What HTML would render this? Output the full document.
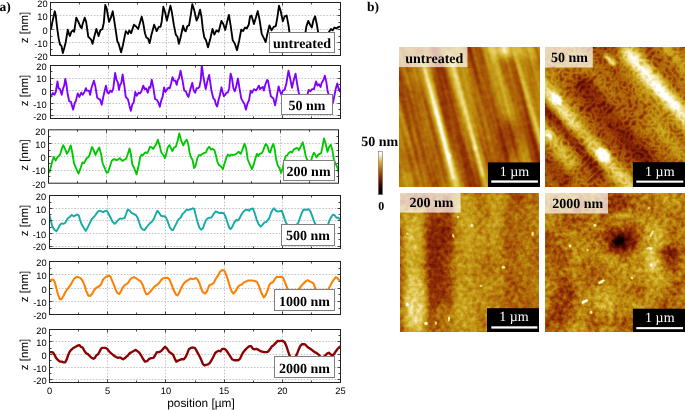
<!DOCTYPE html><html><head><meta charset="utf-8"><style>
html,body{margin:0;padding:0;background:#fff;width:685px;height:410px;overflow:hidden}
svg{position:absolute;left:0;top:0;display:block;will-change:transform;text-rendering:geometricPrecision}
.tk{font-family:"Liberation Sans",sans-serif;font-size:9.3px;fill:#000}
.ax{font-family:"Liberation Sans",sans-serif;font-size:11.5px;fill:#000}
.lg{font-family:"Liberation Serif",serif;font-weight:bold;font-size:14px;fill:#000}
.sb{font-family:"Liberation Serif",serif;font-size:14px;fill:#fff}
</style></head><body>
<svg width="685" height="410" viewBox="0 0 685 410">
<defs>
<clipPath id="c0"><rect x="50.5" y="2.5" width="290" height="53"/></clipPath>
<clipPath id="c1"><rect x="50.5" y="65.5" width="290" height="53"/></clipPath>
<clipPath id="c2"><rect x="48.5" y="129.8" width="290" height="53.4"/></clipPath>
<clipPath id="c3"><rect x="49.5" y="195.5" width="291" height="53"/></clipPath>
<clipPath id="c4"><rect x="49.5" y="261.5" width="291" height="53"/></clipPath>
<clipPath id="c5"><rect x="49.5" y="329.5" width="291" height="53"/></clipPath>
</defs>
<g stroke="#c2c2c2" stroke-width="1" stroke-dasharray="1.5 1.6" fill="none"><line x1="50.5" y1="15.5" x2="340.5" y2="15.5"/><line x1="50.5" y1="29.5" x2="340.5" y2="29.5"/><line x1="50.5" y1="42.5" x2="340.5" y2="42.5"/><line x1="108.5" y1="2.5" x2="108.5" y2="55.5"/><line x1="166.5" y1="2.5" x2="166.5" y2="55.5"/><line x1="224.5" y1="2.5" x2="224.5" y2="55.5"/><line x1="282.5" y1="2.5" x2="282.5" y2="55.5"/></g>
<path clip-path="url(#c0)" d="M50.12 27.56 L51.11 28.98 L52.24 22.61 L54.78 11.31 L55.77 15.55 L57.19 28.27 L58.6 38.16 L60.01 44.52 L61.43 45.94 L62.84 53 L64.25 48.06 L65.67 42.4 L67.79 29.68 L69.2 34.63 L69.91 36.04 L71.32 31.8 L72.73 30.39 L74.15 31.8 L76.27 17.67 L78.39 21.91 L80.51 26.86 L81.64 28.27 L82.63 24.03 L84.75 17.67 L86.16 21.91 L88.28 36.75 L89.7 38.16 L91.11 39.58 L92.52 43.82 L94.64 35.34 L96.34 28.98 L97.47 32.51 L98.6 36.04 L100.3 30.39 L102.42 28.98 L103.83 22.61 L105.24 4.95 L106.66 8.48 L109.06 21.91 L110.9 17.67 L112.73 11.31 L114.15 19.79 L115.84 31.1 L117.26 40.99 L118.67 43.82 L121.07 52.3 L122.91 45.23 L124.33 38.16 L125.74 31.1 L128 33.92 L129.41 30.39 L131.11 33.22 L133.94 24.73 L135.77 26.15 L138.18 28.98 L140.01 22.61 L141.71 16.68 L143.27 23.32 L144.96 33.22 L146.37 37.46 L148.07 38.45 L149.63 43.11 L151.32 35.34 L154.15 24.73 L155.56 28.27 L156.69 31.1 L158.81 26.86 L160.51 26.86 L161.64 21.91 L163.34 6.78 L165.03 12.01 L166.87 20.49 L168.57 13.43 L170.4 5.65 L171.82 12.01 L173.94 25.44 L175.77 34.63 L177.47 36.75 L178.88 43.82 L180.58 37.46 L183.12 25.72 L184.54 30.39 L185.67 31.38 L187.36 26.15 L189.06 25.44 L190.9 14.13 L192.31 4.24 L194.15 9.89 L196.55 20.49 L197.96 17.67 L200.08 9.61 L201.5 16.96 L202.91 29.68 L204.33 37.46 L206.02 40.28 L208 47.35 L210.12 39.58 L212.52 28.98 L214.36 34.63 L216.48 30.39 L218.6 31.8 L221.43 20.92 L223.27 24.03 L225.24 29.96 L227.08 21.91 L228.92 14.84 L230.61 25.44 L232.73 40.28 L234.86 43.82 L236.98 50.18 L239.1 40.99 L241.22 29.68 L243.05 31.1 L245.03 27.56 L246.87 28.27 L248.71 24.73 L250.12 16.25 L251.53 15.55 L253.94 24.03 L256.06 16.96 L257.75 11.02 L259.59 19.79 L261.71 33.92 L263.83 38.16 L265.67 41.98 L267.36 33.92 L269.41 25.44 L271.53 30.39 L273.65 26.86 L275.77 26.15 L277.19 18.37 L279.02 5.65 L280.72 11.31 L282.84 21.2 L284.68 16.25 L286.66 15.55 L288.49 25.44 L289.48 32.51 L292.03 42.4 L300.51 42.4 L305.46 32.51 L306.45 26.15 L308.28 20.92 L310.12 24.73 L311.82 27.56 L313.51 19.79 L315.07 16.25 L316.76 24.03 L318.18 32.51 L321.71 42.4 L326.66 38.16 L328.78 32.23 L330.9 28.98 L332.73 30.39 L334.43 27.56 L336.55 28.27 L338.67 26.86 L340.37 26.57" fill="none" stroke="#000000" stroke-width="1.85" stroke-linejoin="round" stroke-linecap="round"/>
<path d="M50.5 49.5h2M340.5 49.5h-2M50.5 42.5h3M340.5 42.5h-3M50.5 36.5h2M340.5 36.5h-2M50.5 29.5h3M340.5 29.5h-3M50.5 22.5h2M340.5 22.5h-2M50.5 15.5h3M340.5 15.5h-3M50.5 9.5h2M340.5 9.5h-2M79.5 2.5v2M79.5 55.5v-2M108.5 2.5v3M108.5 55.5v-3M137.5 2.5v2M137.5 55.5v-2M166.5 2.5v3M166.5 55.5v-3M195.5 2.5v2M195.5 55.5v-2M224.5 2.5v3M224.5 55.5v-3M253.5 2.5v2M253.5 55.5v-2M282.5 2.5v3M282.5 55.5v-3M311.5 2.5v2M311.5 55.5v-2" stroke="#444" stroke-width="1" fill="none"/>
<rect x="50.5" y="2.5" width="290" height="53" fill="none" stroke="#222" stroke-width="1"/>
<text class="tk" x="47.6" y="6.8" text-anchor="end">20</text>
<text class="tk" x="47.6" y="20.2" text-anchor="end">10</text>
<text class="tk" x="47.6" y="33.6" text-anchor="end">0</text>
<text class="tk" x="47.6" y="47" text-anchor="end">-10</text>
<text class="tk" x="47.6" y="60.4" text-anchor="end">-20</text>
<text class="ax" transform="translate(27.8 27.5) rotate(-90)" text-anchor="middle">z [nm]</text>
<rect x="269.5" y="32.5" width="65" height="20" fill="#fff" stroke="#808080" stroke-width="1"/>
<text class="lg" x="302" y="47.7" text-anchor="middle">untreated</text>
<g stroke="#c2c2c2" stroke-width="1" stroke-dasharray="1.5 1.6" fill="none"><line x1="50.5" y1="78.5" x2="340.5" y2="78.5"/><line x1="50.5" y1="90.5" x2="340.5" y2="90.5"/><line x1="50.5" y1="103.5" x2="340.5" y2="103.5"/><line x1="50.5" y1="115.5" x2="340.5" y2="115.5"/><line x1="108.5" y1="65.5" x2="108.5" y2="118.5"/><line x1="166.5" y1="65.5" x2="166.5" y2="118.5"/><line x1="224.5" y1="65.5" x2="224.5" y2="118.5"/><line x1="282.5" y1="65.5" x2="282.5" y2="118.5"/></g>
<path clip-path="url(#c1)" d="M50.12 97.63 L51.53 95.23 L52.95 92.96 L54.36 94.8 L55.77 91.98 L57.47 81.37 L58.6 88.44 L60.01 89.15 L61.71 94.8 L63.12 88.16 L64.25 85.61 L65.24 78.83 L66.37 84.2 L67.79 94.8 L69.2 101.16 L70.9 101.87 L73.16 109.64 L74.86 102.58 L75.84 101.16 L77.68 93.39 L79.38 96.92 L81.22 92.68 L82.63 94.8 L84.47 91.98 L85.88 88.16 L86.87 90.56 L88.99 90.56 L90.12 94.8 L91.53 87.73 L93.94 80.67 L95.35 86.32 L97.19 97.63 L98.88 99.04 L100.01 99.47 L101.71 104.7 L103.41 96.22 L105.95 85.61 L107.36 92.68 L108.78 93.39 L110.19 90.56 L111.89 91.98 L113.3 88.44 L115.14 72.89 L116.55 79.96 L117.96 82.79 L118.95 89.86 L120.08 84.91 L121.22 83.49 L122.63 74.31 L124.33 85.61 L125.74 96.92 L128 99.47 L129.41 105.4 L130.83 110.77 L132.24 104.7 L133.65 102.58 L135.35 91.98 L136.76 95.79 L138.6 92.68 L140.01 93.39 L141.43 91.27 L143.27 85.61 L144.68 89.15 L146.09 88.44 L147.79 92.68 L149.2 87.03 L150.33 87.73 L151.75 79.68 L153.16 86.32 L155.14 99.04 L156.98 100.03 L158.39 102.58 L159.8 106.82 L161.22 100.46 L162.63 96.92 L164.04 87.31 L165.46 91.98 L166.87 89.86 L168.28 87.73 L169.7 88.44 L171.11 83.49 L172.52 77.13 L173.94 80.67 L175.35 80.67 L176.76 84.91 L177.75 79.96 L178.88 78.55 L180.58 70.77 L182.42 79.96 L184.25 90.56 L185.95 91.27 L187.08 94.8 L188.49 96.92 L190.19 89.86 L192.31 82.79 L193.72 90.56 L195.14 92.68 L196.55 88.16 L197.96 88.44 L199.38 87.03 L200.79 79.96 L201.78 65.12 L203.19 75.72 L204.61 83.49 L205.74 89.15 L207.15 82.08 L209.13 75.01 L210.12 81.37 L211.53 91.27 L213.37 98.34 L214.78 99.75 L215.77 103.99 L217.19 106.53 L218.6 99.75 L220.01 94.8 L221.43 87.31 L222.84 92.68 L223.83 96.22 L225.24 94.8 L226.37 92.68 L227.79 92.68 L229.2 88.44 L230.61 73.6 L232.03 78.55 L233.44 88.44 L234.86 91.27 L236.27 86.32 L237.96 78.55 L239.38 87.73 L241.22 98.34 L243.05 101.87 L244.47 103.99 L245.88 109.64 L247.58 103.28 L248.99 100.46 L250.69 90.56 L252.1 92.68 L253.94 89.15 L256.06 90.56 L257.47 88.16 L258.88 85.61 L260.01 89.15 L261.43 87.73 L262.84 87.03 L263.83 90.56 L265.24 84.91 L267.08 79.96 L268 80.67 L269.41 88.44 L270.83 96.22 L272.24 97.63 L273.37 98.34 L275.07 105.4 L276.48 98.34 L278.6 86.32 L280.01 91.27 L281.43 94.8 L282.84 90.56 L284.68 89.86 L286.37 83.49 L288.49 70.77 L289.91 77.13 L292.03 87.73 L293.44 81.37 L295.56 73.6 L296.98 82.79 L298.39 91.27 L299.38 94.8 L303.34 105.4 L307.58 94.1 L308.71 89.86 L310.4 91.27 L312.1 89.15 L313.94 89.15 L316.06 81.37 L317.47 85.61 L318.88 84.2 L320.58 87.03 L321.71 82.79 L323.41 79.96 L324.82 75.72 L326.23 81.37 L327.65 91.27 L328.78 94.8 L330.9 108.23 L333.3 101.16 L334.43 95.51 L335.84 88.44 L337.26 83.49 L338.67 89.15 L339.8 91.27 L340.79 87.73" fill="none" stroke="#7f00ff" stroke-width="1.85" stroke-linejoin="round" stroke-linecap="round"/>
<path d="M50.5 115.5h3M340.5 115.5h-3M50.5 109.5h2M340.5 109.5h-2M50.5 103.5h3M340.5 103.5h-3M50.5 96.5h2M340.5 96.5h-2M50.5 90.5h3M340.5 90.5h-3M50.5 84.5h2M340.5 84.5h-2M50.5 78.5h3M340.5 78.5h-3M50.5 71.5h2M340.5 71.5h-2M79.5 65.5v2M79.5 118.5v-2M108.5 65.5v3M108.5 118.5v-3M137.5 65.5v2M137.5 118.5v-2M166.5 65.5v3M166.5 118.5v-3M195.5 65.5v2M195.5 118.5v-2M224.5 65.5v3M224.5 118.5v-3M253.5 65.5v2M253.5 118.5v-2M282.5 65.5v3M282.5 118.5v-3M311.5 65.5v2M311.5 118.5v-2" stroke="#444" stroke-width="1" fill="none"/>
<rect x="50.5" y="65.5" width="290" height="53" fill="none" stroke="#222" stroke-width="1"/>
<text class="tk" x="46.6" y="69.9" text-anchor="end">20</text>
<text class="tk" x="46.6" y="82.45" text-anchor="end">10</text>
<text class="tk" x="46.6" y="95" text-anchor="end">0</text>
<text class="tk" x="46.6" y="107.55" text-anchor="end">-10</text>
<text class="tk" x="46.6" y="120.1" text-anchor="end">-20</text>
<text class="ax" transform="translate(27.8 90.5) rotate(-90)" text-anchor="middle">z [nm]</text>
<rect x="281.5" y="94.5" width="51" height="20" fill="#fff" stroke="#808080" stroke-width="1"/>
<text class="lg" x="306.9" y="110.3" text-anchor="middle">50 nm</text>
<g stroke="#c2c2c2" stroke-width="1" stroke-dasharray="1.5 1.6" fill="none"><line x1="48.5" y1="143.5" x2="338.5" y2="143.5"/><line x1="48.5" y1="156.5" x2="338.5" y2="156.5"/><line x1="48.5" y1="170.5" x2="338.5" y2="170.5"/><line x1="106.5" y1="129.8" x2="106.5" y2="183.2"/><line x1="164.5" y1="129.8" x2="164.5" y2="183.2"/><line x1="222.5" y1="129.8" x2="222.5" y2="183.2"/><line x1="280.5" y1="129.8" x2="280.5" y2="183.2"/></g>
<path clip-path="url(#c2)" d="M48.12 169.4 L49.53 172.23 L50.95 166.58 L52.36 160.92 L53.77 156.96 L55.61 160.64 L57.31 157.39 L58.72 155.98 L60.13 154.56 L61.55 149.61 L63.24 145.09 L65.08 148.91 L66.92 153.86 L68.61 151.03 L70.73 145.37 L72.15 151.73 L73.99 163.04 L75.96 167.99 L78.51 173.64 L80.63 167.99 L82.47 162.34 L84.16 163.04 L85.58 160.22 L86.99 157.81 L88.69 156.96 L90.1 153.15 L91.94 147.07 L93.77 150.32 L95.47 154.99 L97.17 151.03 L99.29 147.49 L101.12 154.56 L102.82 163.75 L104.66 167.99 L106.49 172.51 L108.19 172.23 L109.89 166.58 L111.72 160.92 L113.14 159.51 L115.26 159.23 L116.67 160.22 L118.08 159.51 L119.78 158.1 L120.91 159.51 L122.61 160.92 L124.59 159.51 L126 158.8 L127.41 155.27 L129.53 148.48 L130.95 154.56 L132.36 164.46 L134.2 167.99 L136.6 174.35 L138.44 166.58 L140.13 157.39 L141.55 154.56 L142.96 155.27 L144.37 153.15 L145.79 152.44 L147.2 153.15 L148.61 150.32 L150.03 146.79 L151.44 147.07 L153.14 148.91 L154.98 146.08 L156.39 143.68 L157.8 139.72 L159.64 145.37 L161.34 152.44 L163.46 155.27 L164.87 158.1 L166.28 153.86 L167.7 147.49 L169.53 145.09 L170.95 148.2 L172.36 151.03 L174.06 147.49 L175.75 146.79 L177.59 141.13 L179.29 133.36 L181.12 140.43 L183.24 145.37 L185.36 141.13 L186.78 139.72 L188.19 143.96 L189.6 152.44 L191.02 157.39 L192.43 159.51 L194.13 167.99 L195.54 165.87 L197.38 158.1 L198.79 155.27 L200.63 155.27 L202.33 153.86 L204.02 153.15 L206 152.44 L207.41 148.91 L209.11 146.79 L210.95 149.61 L212.78 148.91 L214.48 150.32 L215.89 155.27 L217.31 161.63 L219 165.16 L220.84 166.29 L222.96 169.12 L224.66 163.04 L226.49 157.39 L227.91 154.56 L229.75 155.98 L231.44 154.56 L233.14 154.99 L234.98 154.56 L237.1 153.15 L238.79 151.73 L240.63 153.86 L242.47 149.61 L244.45 143.68 L246.28 148.91 L247.7 159.51 L249.82 164.46 L251.94 169.12 L253.77 164.46 L255.47 158.1 L256.88 153.86 L258.3 155.98 L259.71 153.86 L261.83 153.15 L263.24 150.32 L265.36 144.67 L266 143.96 L267.41 146.08 L269.11 151.73 L270.24 152.44 L271.65 147.49 L273.35 143.96 L274.76 149.61 L276.18 159.51 L277.59 165.16 L279.43 167.99 L281.12 172.94 L282.68 167.99 L284.37 160.22 L285.79 155.98 L287.2 155.27 L288.61 153.15 L290.31 151.73 L292.15 152.44 L293.56 149.61 L294.98 148.91 L296.39 148.2 L297.8 148.2 L298.79 150.32 L300.63 146.79 L302.75 142.27 L304.16 148.2 L305.58 155.27 L306.99 159.51 L308.12 160.92 L309.82 166.58 L311.23 160.22 L312.64 155.27 L314.06 152.72 L315.47 155.27 L316.6 157.39 L318.3 154.56 L319.71 153.86 L321.12 153.15 L322.54 146.79 L323.95 138.31 L325.36 142.55 L327.48 151.73 L328.9 147.49 L330.73 144.67 L332.43 150.32 L333.84 159.51 L335.26 163.04 L336.67 165.87 L338.08 169.4 L339.22 175.06" fill="none" stroke="#00c800" stroke-width="1.85" stroke-linejoin="round" stroke-linecap="round"/>
<path d="M48.5 176.5h2M338.5 176.5h-2M48.5 170.5h3M338.5 170.5h-3M48.5 163.5h2M338.5 163.5h-2M48.5 156.5h3M338.5 156.5h-3M48.5 150.5h2M338.5 150.5h-2M48.5 143.5h3M338.5 143.5h-3M48.5 136.5h2M338.5 136.5h-2M77.5 129.8v2M77.5 183.2v-2M106.5 129.8v3M106.5 183.2v-3M135.5 129.8v2M135.5 183.2v-2M164.5 129.8v3M164.5 183.2v-3M193.5 129.8v2M193.5 183.2v-2M222.5 129.8v3M222.5 183.2v-3M251.5 129.8v2M251.5 183.2v-2M280.5 129.8v3M280.5 183.2v-3M309.5 129.8v2M309.5 183.2v-2" stroke="#444" stroke-width="1" fill="none"/>
<rect x="48.5" y="129.8" width="290" height="53.4" fill="none" stroke="#222" stroke-width="1"/>
<text class="tk" x="45.6" y="134.5" text-anchor="end">20</text>
<text class="tk" x="45.6" y="147.8" text-anchor="end">10</text>
<text class="tk" x="45.6" y="161.1" text-anchor="end">0</text>
<text class="tk" x="45.6" y="174.4" text-anchor="end">-10</text>
<text class="tk" x="45.6" y="187.7" text-anchor="end">-20</text>
<text class="ax" transform="translate(27.8 155) rotate(-90)" text-anchor="middle">z [nm]</text>
<rect x="283.5" y="160.5" width="51" height="20" fill="#fff" stroke="#808080" stroke-width="1"/>
<text class="lg" x="308.6" y="175.8" text-anchor="middle">200 nm</text>
<g stroke="#c2c2c2" stroke-width="1" stroke-dasharray="1.5 1.6" fill="none"><line x1="49.5" y1="208.5" x2="340.5" y2="208.5"/><line x1="49.5" y1="220.5" x2="340.5" y2="220.5"/><line x1="49.5" y1="233.5" x2="340.5" y2="233.5"/><line x1="49.5" y1="246.5" x2="340.5" y2="246.5"/><line x1="107.5" y1="195.5" x2="107.5" y2="248.5"/><line x1="165.5" y1="195.5" x2="165.5" y2="248.5"/><line x1="224.5" y1="195.5" x2="224.5" y2="248.5"/><line x1="282.5" y1="195.5" x2="282.5" y2="248.5"/></g>
<path clip-path="url(#c3)" d="M49.41 215.33 L50.83 220.56 L52.24 226.22 L54.36 229.75 L56.48 231.16 L58.18 228.34 L60.01 224.8 L61.43 223.39 L63.27 223.81 L65.24 222.96 L66.37 220.56 L67.79 218.44 L69.91 216.75 L71.75 214.91 L73.72 216.32 L75.56 215.33 L77.4 214.48 L78.81 215.61 L80.23 220.56 L81.92 224.8 L84.04 228.34 L85.88 230.88 L87.58 227.63 L89.7 223.39 L91.82 219.15 L93.51 217.31 L95.35 215.33 L97.47 212.08 L99.17 210.67 L101 211.09 L103.12 212.08 L104.82 211.09 L106.66 210.67 L108.07 212.79 L110.19 217.03 L112.31 221.27 L114.71 223.81 L116.55 221.98 L118.39 219.86 L120.08 218.44 L121.5 218.87 L123.19 218.44 L124.61 218.16 L126.02 214.2 L127.15 210.67 L128 209.68 L129.7 210.67 L131.53 212.79 L133.65 213.92 L136.2 215.33 L137.89 218.44 L139.31 222.68 L141 227.63 L142.84 229.47 L144.68 230.03 L146.37 227.63 L148.49 224.8 L150.61 222.68 L152.31 221.27 L153.72 219.15 L155.56 214.91 L157.4 210.67 L159.1 212.79 L160.79 215.61 L162.63 216.32 L164.47 216.32 L166.16 217.73 L167.86 221.98 L169.7 226.92 L171.53 229.75 L172.95 230.03 L174.64 226.92 L176.76 222.68 L178.6 219.15 L180.58 217.73 L182.42 214.2 L184.54 212.08 L186.66 209.68 L188.78 209.96 L190.9 209.25 L192.73 208.27 L194.15 208.83 L195.84 215.61 L197.54 221.98 L199.38 227.63 L201.22 229.75 L202.91 228.34 L204.33 224.1 L206.02 220.14 L208 218.16 L209.7 217.73 L211.53 217.31 L213.65 213.92 L215.77 211.37 L217.61 212.08 L219.31 213.07 L221.43 212.79 L223.83 213.07 L225.67 217.03 L227.51 222.68 L229.2 227.63 L230.61 229.04 L232.31 226.92 L234.15 222.68 L236.27 219.86 L237.68 220.56 L239.38 218.72 L241.22 214.91 L243.05 212.08 L245.03 210.24 L246.87 209.68 L248.99 210.67 L251.11 208.83 L252.95 208.55 L254.64 212.79 L256.76 219.86 L258.6 224.1 L260.58 226.64 L262.42 224.8 L264.25 222.68 L266.23 221.98 L268 219.86 L269.41 217.73 L271.11 212.79 L272.52 209.96 L273.94 208.27 L275.77 210.67 L277.89 211.66 L280.01 211.09 L281.71 210.67 L283.27 214.91 L284.68 219.15 L286.09 222.96 L287.08 224.38 L292.03 235.4 L296.98 224.38 L298.39 222.68 L299.8 218.44 L301.64 213.49 L303.34 209.68 L305.03 209.68 L306.87 209.68 L308.71 209.25 L310.4 211.37 L312.1 215.61 L313.51 219.86 L314.93 223.39 L315.77 224.38 L321.71 235.4 L328.07 224.38 L329.48 220.56 L331.32 217.03 L333.02 214.48 L334.71 215.33 L336.55 217.73 L338.39 217.73 L340.08 219.15 L340.79 220.14" fill="none" stroke="#14aaa5" stroke-width="1.9" stroke-linejoin="round" stroke-linecap="round"/>
<path d="M49.5 246.5h3M340.5 246.5h-3M49.5 239.5h2M340.5 239.5h-2M49.5 233.5h3M340.5 233.5h-3M49.5 227.5h2M340.5 227.5h-2M49.5 220.5h3M340.5 220.5h-3M49.5 214.5h2M340.5 214.5h-2M49.5 208.5h3M340.5 208.5h-3M49.5 202.5h2M340.5 202.5h-2M78.5 195.5v2M78.5 248.5v-2M107.5 195.5v3M107.5 248.5v-3M136.5 195.5v2M136.5 248.5v-2M165.5 195.5v3M165.5 248.5v-3M195.5 195.5v2M195.5 248.5v-2M224.5 195.5v3M224.5 248.5v-3M253.5 195.5v2M253.5 248.5v-2M282.5 195.5v3M282.5 248.5v-3M311.5 195.5v2M311.5 248.5v-2" stroke="#444" stroke-width="1" fill="none"/>
<rect x="49.5" y="195.5" width="291" height="53" fill="none" stroke="#222" stroke-width="1"/>
<text class="tk" x="46.2" y="200" text-anchor="end">20</text>
<text class="tk" x="46.2" y="212.6" text-anchor="end">10</text>
<text class="tk" x="46.2" y="225.2" text-anchor="end">0</text>
<text class="tk" x="46.2" y="237.8" text-anchor="end">-10</text>
<text class="tk" x="46.2" y="250.4" text-anchor="end">-20</text>
<text class="ax" transform="translate(27.8 220.5) rotate(-90)" text-anchor="middle">z [nm]</text>
<rect x="281.5" y="224.5" width="53" height="21" fill="#fff" stroke="#808080" stroke-width="1"/>
<text class="lg" x="307.9" y="240.4" text-anchor="middle">500 nm</text>
<g stroke="#c2c2c2" stroke-width="1" stroke-dasharray="1.5 1.6" fill="none"><line x1="49.5" y1="274.5" x2="340.5" y2="274.5"/><line x1="49.5" y1="288.5" x2="340.5" y2="288.5"/><line x1="49.5" y1="301.5" x2="340.5" y2="301.5"/><line x1="107.5" y1="261.5" x2="107.5" y2="314.5"/><line x1="165.5" y1="261.5" x2="165.5" y2="314.5"/><line x1="224.5" y1="261.5" x2="224.5" y2="314.5"/><line x1="282.5" y1="261.5" x2="282.5" y2="314.5"/></g>
<path clip-path="url(#c4)" d="M49.41 280.91 L50.83 280.2 L52.24 279.49 L53.65 279.92 L55.07 283.03 L56.48 288.68 L58.18 295.04 L60.01 299.28 L61.43 299.28 L63.55 295.75 L65.67 291.51 L67.79 288.68 L69.91 285.86 L72.03 282.32 L74.15 278.79 L76.27 277.09 L78.39 277.09 L80.51 278.08 L82.63 280.91 L84.47 285.15 L86.16 290.8 L88.28 295.47 L90.12 296.03 L91.82 294.34 L93.51 291.51 L95.35 288.68 L97.19 287.27 L98.88 286.56 L101 284.44 L103.12 279.49 L105.24 277.37 L107.08 276.24 L109.06 275.68 L110.47 276.67 L111.89 280.2 L113.72 284.44 L115.56 289.39 L117.26 292.92 L119.38 294.05 L121.22 290.8 L122.91 287.27 L124.61 285.15 L126.45 284.16 L128 283.03 L129.7 280.2 L131.53 278.08 L133.94 277.09 L135.77 278.08 L137.89 279.49 L140.72 281.33 L142.84 285.15 L144.68 290.8 L146.37 294.34 L148.49 293.63 L150.61 291.23 L152.73 288.68 L154.86 286.14 L156.98 284.87 L158.81 283.31 L160.79 280.48 L162.63 278.51 L164.75 278.08 L166.87 277.66 L168.99 278.79 L170.4 281.61 L172.1 285.86 L173.94 290.8 L175.77 294.34 L177.47 295.47 L179.17 292.92 L181 288.68 L183.12 284.44 L184.82 282.32 L186.66 280.91 L188.49 279.92 L190.47 278.51 L192.31 279.07 L194.15 278.79 L195.84 278.08 L197.54 279.49 L199.38 283.03 L201.22 288.68 L202.91 292.22 L205.03 293.63 L206.45 292.22 L208 288.68 L209.41 285.15 L211.53 284.44 L213.65 283.03 L215.77 278.79 L217.89 275.68 L220.01 271.72 L222.13 270.02 L224.25 270.59 L226.09 274.55 L227.79 279.49 L229.91 286.56 L231.75 291.51 L233.44 293.63 L235.56 291.23 L237.68 287.27 L239.8 285.15 L241.92 284.44 L244.04 282.32 L246.16 281.33 L248.28 280.48 L250.4 280.48 L252.52 280.48 L254.64 280.91 L256.76 281.61 L258.6 285.15 L260.3 289.81 L261.99 294.34 L263.83 297.45 L265.67 295.04 L268 289.39 L269.13 285.15 L270.83 283.03 L272.95 282.32 L275.07 278.79 L276.76 276.67 L279.02 277.09 L281.43 276.67 L283.27 278.08 L284.68 281.61 L286.37 285.86 L287.79 289.39 L292.73 298.58 L297.68 289.81 L299.8 287.98 L301.92 285.15 L304.04 283.03 L306.16 280.91 L307.86 280.2 L309.7 281.33 L311.82 282.32 L313.51 283.31 L314.64 286.56 L315.77 289.81 L321.71 298.58 L328.07 289.81 L330.19 285.86 L332.31 281.61 L334.43 278.79 L335.84 277.09 L337.54 278.08 L338.95 279.92 L340.37 280.2" fill="none" stroke="#ff8000" stroke-width="2.05" stroke-linejoin="round" stroke-linecap="round"/>
<path d="M49.5 308.5h2M340.5 308.5h-2M49.5 301.5h3M340.5 301.5h-3M49.5 294.5h2M340.5 294.5h-2M49.5 288.5h3M340.5 288.5h-3M49.5 281.5h2M340.5 281.5h-2M49.5 274.5h3M340.5 274.5h-3M49.5 268.5h2M340.5 268.5h-2M78.5 261.5v2M78.5 314.5v-2M107.5 261.5v3M107.5 314.5v-3M136.5 261.5v2M136.5 314.5v-2M165.5 261.5v3M165.5 314.5v-3M195.5 261.5v2M195.5 314.5v-2M224.5 261.5v3M224.5 314.5v-3M253.5 261.5v2M253.5 314.5v-2M282.5 261.5v3M282.5 314.5v-3M311.5 261.5v2M311.5 314.5v-2" stroke="#444" stroke-width="1" fill="none"/>
<rect x="49.5" y="261.5" width="291" height="53" fill="none" stroke="#222" stroke-width="1"/>
<text class="tk" x="46.6" y="265.8" text-anchor="end">20</text>
<text class="tk" x="46.6" y="279.2" text-anchor="end">10</text>
<text class="tk" x="46.6" y="292.6" text-anchor="end">0</text>
<text class="tk" x="46.6" y="306" text-anchor="end">-10</text>
<text class="tk" x="46.6" y="319.4" text-anchor="end">-20</text>
<text class="ax" transform="translate(27.8 286.5) rotate(-90)" text-anchor="middle">z [nm]</text>
<rect x="274.5" y="289.5" width="60" height="21" fill="#fff" stroke="#808080" stroke-width="1"/>
<text class="lg" x="304.4" y="305.6" text-anchor="middle">1000 nm</text>
<g stroke="#c2c2c2" stroke-width="1" stroke-dasharray="1.5 1.6" fill="none"><line x1="49.5" y1="341.5" x2="340.5" y2="341.5"/><line x1="49.5" y1="354.5" x2="340.5" y2="354.5"/><line x1="49.5" y1="367.5" x2="340.5" y2="367.5"/><line x1="49.5" y1="379.5" x2="340.5" y2="379.5"/><line x1="107.5" y1="329.5" x2="107.5" y2="382.5"/><line x1="165.5" y1="329.5" x2="165.5" y2="382.5"/><line x1="224.5" y1="329.5" x2="224.5" y2="382.5"/><line x1="282.5" y1="329.5" x2="282.5" y2="382.5"/></g>
<path clip-path="url(#c5)" d="M49.41 352.16 L51.11 352.16 L52.95 352.44 L54.36 354.56 L56.2 358.1 L58.18 360.22 L60.01 361.63 L61.85 361.63 L63.55 362.34 L65.24 362.34 L66.66 359.51 L68.07 355.27 L69.91 351.31 L71.75 349.33 L73.44 347.92 L75.56 346.79 L77.68 345.66 L79.38 345.09 L80.79 346.79 L82.63 347.49 L84.47 351.03 L86.16 353.15 L87.86 354.14 L89.7 355.98 L91.53 357.81 L93.51 358.8 L94.93 357.81 L96.34 355.27 L97.75 354.56 L99.17 352.44 L100.58 349.61 L101.71 347.92 L103.41 347.92 L105.67 347.92 L107.36 348.91 L108.78 351.03 L110.9 353.15 L112.73 354.56 L114.43 355.98 L116.13 356.96 L117.96 357.81 L120.08 357.39 L121.5 358.38 L123.19 359.23 L125.03 358.1 L126.45 356.68 L128 355.27 L129.7 353.15 L131.53 352.16 L133.65 351.03 L135.77 349.9 L137.61 351.31 L139.31 352.72 L141.43 355.98 L143.27 359.23 L144.96 361.63 L147.08 361.2 L149.2 358.8 L151.32 358.1 L153.44 357.81 L155.14 355.27 L156.98 352.16 L159.1 352.16 L161.22 351.03 L163.05 348.91 L165.03 346.79 L166.87 348.48 L168.99 351.73 L171.11 353.15 L172.95 354.56 L174.64 358.38 L176.34 361.63 L178.18 360.64 L180.01 359.79 L181.71 359.23 L183.83 359.23 L185.67 356.96 L187.36 353.15 L189.06 348.91 L190.9 347.92 L193.02 347.49 L195.14 348.2 L197.26 352.16 L199.38 355.98 L201.22 359.79 L202.91 364.03 L204.33 365.45 L206.02 364.88 L208 364.46 L209.7 363.04 L211.53 360.22 L213.37 356.68 L215.07 353.15 L216.76 351.73 L218.6 350.75 L220.44 351.31 L222.13 348.91 L224.25 348.91 L225.67 349.61 L227.79 352.44 L229.91 355.98 L232.03 359.23 L234.15 360.22 L236.27 360.22 L238.39 360.22 L240.23 358.38 L241.92 354.56 L243.62 351.73 L245.46 349.61 L247.58 347.49 L249.7 346.08 L251.11 346.08 L252.95 348.91 L254.64 349.33 L256.34 348.91 L258.6 349.9 L260.3 351.03 L262.42 351.73 L264.54 352.16 L266.66 352.16 L268 351.73 L269.7 349.61 L271.53 346.79 L273.65 345.09 L275.77 342.83 L277.61 340.85 L279.31 341.13 L281 340.85 L282.84 340.85 L284.68 342.27 L286.37 346.08 L287.79 350.32 L289.2 354.56 L290.33 356.96 L292.73 363.75 L295.56 356.96 L296.98 353.86 L298.39 350.32 L300.23 346.08 L301.92 344.24 L304.04 344.24 L305.46 344.67 L307.29 346.79 L308.99 347.92 L311.11 349.33 L312.95 350.75 L314.64 352.16 L316.76 353.15 L318.6 354.56 L320.58 356.68 L322.42 360.92 L323.83 356.96 L325.24 355.27 L327.08 353.57 L328.78 352.72 L330.47 354.14 L332.31 355.27 L333.72 354.56 L335.56 351.73 L337.26 349.33 L338.95 347.49 L340.37 346.51" fill="none" stroke="#8b0000" stroke-width="2.35" stroke-linejoin="round" stroke-linecap="round"/>
<path d="M49.5 379.5h3M340.5 379.5h-3M49.5 373.5h2M340.5 373.5h-2M49.5 367.5h3M340.5 367.5h-3M49.5 360.5h2M340.5 360.5h-2M49.5 354.5h3M340.5 354.5h-3M49.5 348.5h2M340.5 348.5h-2M49.5 341.5h3M340.5 341.5h-3M49.5 335.5h2M340.5 335.5h-2M78.5 329.5v2M78.5 382.5v-2M107.5 329.5v3M107.5 382.5v-3M136.5 329.5v2M136.5 382.5v-2M165.5 329.5v3M165.5 382.5v-3M195.5 329.5v2M195.5 382.5v-2M224.5 329.5v3M224.5 382.5v-3M253.5 329.5v2M253.5 382.5v-2M282.5 329.5v3M282.5 382.5v-3M311.5 329.5v2M311.5 382.5v-2" stroke="#444" stroke-width="1" fill="none"/>
<rect x="49.5" y="329.5" width="291" height="53" fill="none" stroke="#222" stroke-width="1"/>
<text class="tk" x="46.6" y="333.55" text-anchor="end">20</text>
<text class="tk" x="46.6" y="346.2" text-anchor="end">10</text>
<text class="tk" x="46.6" y="358.85" text-anchor="end">0</text>
<text class="tk" x="46.6" y="371.5" text-anchor="end">-10</text>
<text class="tk" x="46.6" y="384.15" text-anchor="end">-20</text>
<text class="ax" transform="translate(27.8 354.5) rotate(-90)" text-anchor="middle">z [nm]</text>
<rect x="274.5" y="356.5" width="60" height="21" fill="#fff" stroke="#808080" stroke-width="1"/>
<text class="lg" x="304.4" y="372.6" text-anchor="middle">2000 nm</text>
<text class="tk" x="49.5" y="394.3" text-anchor="middle">0</text>
<text class="tk" x="107.7" y="394.3" text-anchor="middle">5</text>
<text class="tk" x="165.9" y="394.3" text-anchor="middle">10</text>
<text class="tk" x="224.1" y="394.3" text-anchor="middle">15</text>
<text class="tk" x="282.3" y="394.3" text-anchor="middle">20</text>
<text class="tk" x="340.5" y="394.3" text-anchor="middle">25</text>
<text class="ax" x="201" y="407.4" text-anchor="middle" style="font-size:11.9px">position [µm]</text>
<text class="lg" x="-0.4" y="10.6" style="font-size:13.5px">a)</text>
<text class="lg" x="367" y="10.6" style="font-size:13.5px">b)</text>
<defs>
<filter id="cm0" x="0" y="0" width="1" height="1" color-interpolation-filters="sRGB"><feTurbulence type="fractalNoise" baseFrequency="0.14 0.008" numOctaves="2" seed="2" result="n1"/><feColorMatrix in="n1" type="matrix" values="1 0 0 0 0 1 0 0 0 0 1 0 0 0 0 0 0 0 0 1" result="g1"/><feTurbulence type="fractalNoise" baseFrequency="0.2" numOctaves="2" seed="3" result="n2"/><feColorMatrix in="n2" type="matrix" values="0 1 0 0 0 0 1 0 0 0 0 1 0 0 0 0 0 0 0 1" result="g2"/><feComposite in="SourceGraphic" in2="g1" operator="arithmetic" k1="0" k2="1" k3="0.28" k4="-0.14" result="s1"/><feComposite in="s1" in2="g2" operator="arithmetic" k1="0" k2="1" k3="0.08" k4="-0.04"/><feComponentTransfer><feFuncR type="linear" slope="1.3" intercept="-0.17"/><feFuncG type="linear" slope="1.3" intercept="-0.17"/><feFuncB type="linear" slope="1.3" intercept="-0.17"/></feComponentTransfer><feComponentTransfer><feFuncR type="table" tableValues="0 0.12 0.27 0.43 0.57 0.67 0.74 0.82 0.9 0.96 1"/><feFuncG type="table" tableValues="0 0 0.03 0.08 0.19 0.37 0.55 0.69 0.8 0.92 1"/><feFuncB type="table" tableValues="0 0 0.02 0.02 0.02 0.03 0.06 0.16 0.39 0.7 1"/></feComponentTransfer></filter>
<filter id="cm1" x="0" y="0" width="1" height="1" color-interpolation-filters="sRGB"><feTurbulence type="fractalNoise" baseFrequency="0.012 0.05" numOctaves="2" seed="5" result="n1"/><feColorMatrix in="n1" type="matrix" values="1 0 0 0 0 1 0 0 0 0 1 0 0 0 0 0 0 0 0 1" result="g1"/><feTurbulence type="turbulence" baseFrequency="0.2" numOctaves="2" seed="6" result="n2"/><feColorMatrix in="n2" type="matrix" values="0 -1 0 0 1 0 -1 0 0 1 0 -1 0 0 1 0 0 0 0 1" result="g2"/><feComposite in="SourceGraphic" in2="g1" operator="arithmetic" k1="0" k2="1" k3="0.2" k4="-0.1" result="s1"/><feComposite in="s1" in2="g2" operator="arithmetic" k1="0" k2="1" k3="0.26" k4="-0.18"/><feComponentTransfer><feFuncR type="linear" slope="1.3" intercept="-0.17"/><feFuncG type="linear" slope="1.3" intercept="-0.17"/><feFuncB type="linear" slope="1.3" intercept="-0.17"/></feComponentTransfer><feComponentTransfer><feFuncR type="table" tableValues="0 0.12 0.27 0.43 0.57 0.67 0.74 0.82 0.9 0.96 1"/><feFuncG type="table" tableValues="0 0 0.03 0.08 0.19 0.37 0.55 0.69 0.8 0.92 1"/><feFuncB type="table" tableValues="0 0 0.02 0.02 0.02 0.03 0.06 0.16 0.39 0.7 1"/></feComponentTransfer></filter>
<filter id="cm2" x="0" y="0" width="1" height="1" color-interpolation-filters="sRGB"><feTurbulence type="fractalNoise" baseFrequency="0.045 0.02" numOctaves="2" seed="7" result="n1"/><feColorMatrix in="n1" type="matrix" values="1 0 0 0 0 1 0 0 0 0 1 0 0 0 0 0 0 0 0 1" result="g1"/><feTurbulence type="fractalNoise" baseFrequency="0.22" numOctaves="2" seed="8" result="n2"/><feColorMatrix in="n2" type="matrix" values="0 1 0 0 0 0 1 0 0 0 0 1 0 0 0 0 0 0 0 1" result="g2"/><feComposite in="SourceGraphic" in2="g1" operator="arithmetic" k1="0" k2="1" k3="0.22" k4="-0.11" result="s1"/><feComposite in="s1" in2="g2" operator="arithmetic" k1="0" k2="1" k3="0.3" k4="-0.15"/><feComponentTransfer><feFuncR type="linear" slope="1" intercept="0"/><feFuncG type="linear" slope="1" intercept="0"/><feFuncB type="linear" slope="1" intercept="0"/></feComponentTransfer><feComponentTransfer><feFuncR type="table" tableValues="0 0.12 0.27 0.43 0.57 0.67 0.74 0.82 0.9 0.96 1"/><feFuncG type="table" tableValues="0 0 0.03 0.08 0.19 0.37 0.55 0.69 0.8 0.92 1"/><feFuncB type="table" tableValues="0 0 0.02 0.02 0.02 0.03 0.06 0.16 0.39 0.7 1"/></feComponentTransfer></filter>
<filter id="cm3" x="0" y="0" width="1" height="1" color-interpolation-filters="sRGB"><feTurbulence type="fractalNoise" baseFrequency="0.035" numOctaves="2" seed="11" result="n1"/><feColorMatrix in="n1" type="matrix" values="1 0 0 0 0 1 0 0 0 0 1 0 0 0 0 0 0 0 0 1" result="g1"/><feTurbulence type="fractalNoise" baseFrequency="0.22" numOctaves="2" seed="12" result="n2"/><feColorMatrix in="n2" type="matrix" values="0 1 0 0 0 0 1 0 0 0 0 1 0 0 0 0 0 0 0 1" result="g2"/><feComposite in="SourceGraphic" in2="g1" operator="arithmetic" k1="0" k2="1" k3="0.3" k4="-0.15" result="s1"/><feComposite in="s1" in2="g2" operator="arithmetic" k1="0" k2="1" k3="0.32" k4="-0.16"/><feComponentTransfer><feFuncR type="linear" slope="1.15" intercept="-0.09"/><feFuncG type="linear" slope="1.15" intercept="-0.09"/><feFuncB type="linear" slope="1.15" intercept="-0.09"/></feComponentTransfer><feComponentTransfer><feFuncR type="table" tableValues="0 0.12 0.27 0.43 0.57 0.67 0.74 0.82 0.9 0.96 1"/><feFuncG type="table" tableValues="0 0 0.03 0.08 0.19 0.37 0.55 0.69 0.8 0.92 1"/><feFuncB type="table" tableValues="0 0 0.02 0.02 0.02 0.03 0.06 0.16 0.39 0.7 1"/></feComponentTransfer></filter>
<filter id="bl0_7" x="-50%" y="-50%" width="200%" height="200%"><feGaussianBlur stdDeviation="0.7"/></filter>
<filter id="bl1_3" x="-50%" y="-50%" width="200%" height="200%"><feGaussianBlur stdDeviation="1.3"/></filter>
<filter id="bl1_5" x="-50%" y="-50%" width="200%" height="200%"><feGaussianBlur stdDeviation="1.5"/></filter>
<filter id="bl2" x="-50%" y="-50%" width="200%" height="200%"><feGaussianBlur stdDeviation="2"/></filter>
<filter id="bl2_5" x="-50%" y="-50%" width="200%" height="200%"><feGaussianBlur stdDeviation="2.5"/></filter>
<filter id="bl3" x="-50%" y="-50%" width="200%" height="200%"><feGaussianBlur stdDeviation="3"/></filter>
<filter id="bl4" x="-50%" y="-50%" width="200%" height="200%"><feGaussianBlur stdDeviation="4"/></filter>
<filter id="bl5" x="-50%" y="-50%" width="200%" height="200%"><feGaussianBlur stdDeviation="5"/></filter>
<linearGradient id="cbar" x1="0" y1="0" x2="0" y2="1">
<stop offset="0" stop-color="rgb(255,255,255)"/>
<stop offset="0.08" stop-color="rgb(250,245,230)"/>
<stop offset="0.25" stop-color="rgb(215,170,60)"/>
<stop offset="0.42" stop-color="rgb(180,105,15)"/>
<stop offset="0.6" stop-color="rgb(130,40,5)"/>
<stop offset="0.78" stop-color="rgb(60,5,5)"/>
<stop offset="0.9" stop-color="rgb(10,0,0)"/>
<stop offset="1" stop-color="rgb(0,0,0)"/>
</linearGradient>
<clipPath id="ic0"><rect x="399" y="47" width="141" height="140"/></clipPath>
<clipPath id="ic1"><rect x="545" y="47" width="140" height="140"/></clipPath>
<clipPath id="ic2"><rect x="400" y="193" width="139" height="139"/></clipPath>
<clipPath id="ic3"><rect x="545" y="193" width="140" height="139"/></clipPath>
</defs>
<g clip-path="url(#ic0)"><g filter="url(#cm0)" transform="rotate(-15 469.5 117)"><g transform="rotate(15 469.5 117)">
<rect x="369" y="17" width="201" height="200" fill="rgb(142,142,142)"/>
<g filter="url(#bl5)"><line x1="393.3" y1="37" x2="436.5" y2="197" stroke="rgb(128,128,128)" stroke-width="12"/><line x1="409.1" y1="37" x2="452.3" y2="197" stroke="rgb(143,143,143)" stroke-width="10"/><line x1="432.1" y1="37" x2="475.3" y2="197" stroke="rgb(120,120,120)" stroke-width="18"/><line x1="471.1" y1="37" x2="514.3" y2="197" stroke="rgb(128,128,128)" stroke-width="14"/><line x1="490.8" y1="37" x2="534" y2="197" stroke="rgb(163,163,163)" stroke-width="14"/><line x1="503.8" y1="37" x2="547" y2="197" stroke="rgb(117,117,117)" stroke-width="12"/><line x1="527.3" y1="37" x2="570.5" y2="197" stroke="rgb(153,153,153)" stroke-width="12"/><ellipse cx="404" cy="182" rx="8" ry="8" fill="rgb(168,168,168)"/><ellipse cx="510" cy="140" rx="9" ry="22" fill="rgb(115,115,115)"/><ellipse cx="416" cy="76" rx="8" ry="10" fill="rgb(156,156,156)"/><ellipse cx="416" cy="156" rx="8" ry="10" fill="rgb(128,128,128)"/><ellipse cx="505" cy="49" rx="14" ry="6" fill="rgb(217,217,217)"/><ellipse cx="530" cy="52" rx="10" ry="6" fill="rgb(178,178,178)"/></g>
<g filter="url(#bl2_5)"><line x1="422.71" y1="60" x2="457" y2="187" stroke="rgb(184,184,184)" stroke-width="7" stroke-linecap="round"/><line x1="450.16" y1="55" x2="485.8" y2="187" stroke="rgb(178,178,178)" stroke-width="7" stroke-linecap="round"/><line x1="512.7" y1="47" x2="554.7" y2="187" stroke="rgb(168,168,168)" stroke-width="5" stroke-linecap="round"/></g>
<g filter="url(#bl1_3)"><line x1="424.66" y1="68" x2="453.26" y2="178" stroke="rgb(214,214,214)" stroke-width="2.4" stroke-linecap="round"/><line x1="435.58" y1="110" x2="449.88" y2="165" stroke="rgb(230,230,230)" stroke-width="2" stroke-linecap="round"/><line x1="452.05" y1="62" x2="482.56" y2="175" stroke="rgb(214,214,214)" stroke-width="2.2" stroke-linecap="round"/><line x1="512.7" y1="47" x2="554.7" y2="187" stroke="rgb(196,196,196)" stroke-width="2.2" stroke-linecap="round"/><ellipse cx="448.8" cy="155.8" rx="1.8" ry="1.8" fill="rgb(247,247,247)"/><ellipse cx="475.1" cy="148" rx="1.6" ry="1.6" fill="rgb(242,242,242)"/></g>
</g></g></g>
<g clip-path="url(#ic1)"><g filter="url(#cm1)" transform="rotate(49 615 117)"><g transform="rotate(-49 615 117)">
<rect x="515" y="17" width="200" height="200" fill="rgb(130,130,130)"/>
<g filter="url(#bl4)"><line x1="640" y1="18" x2="700" y2="87" stroke="rgb(158,158,158)" stroke-width="10"/><line x1="625" y1="48.75" x2="700" y2="135" stroke="rgb(224,224,224)" stroke-width="14"/><line x1="600" y1="60" x2="645" y2="111.75" stroke="rgb(128,128,128)" stroke-width="12"/><line x1="650" y1="117.5" x2="700" y2="175" stroke="rgb(153,153,153)" stroke-width="10"/><line x1="578" y1="79.7" x2="660" y2="174" stroke="rgb(97,97,97)" stroke-width="18"/><line x1="530" y1="45.5" x2="640" y2="172" stroke="rgb(133,133,133)" stroke-width="6"/><ellipse cx="562" cy="70" rx="14" ry="10" fill="rgb(135,135,135)"/><line x1="530" y1="72.5" x2="580" y2="130" stroke="rgb(214,214,214)" stroke-width="9"/><line x1="575" y1="124.25" x2="595" y2="147.25" stroke="rgb(178,178,178)" stroke-width="9"/><line x1="590" y1="141.5" x2="660" y2="222" stroke="rgb(214,214,214)" stroke-width="10"/><line x1="540" y1="100" x2="605" y2="174.75" stroke="rgb(82,82,82)" stroke-width="8"/><line x1="530" y1="113.5" x2="575" y2="165.25" stroke="rgb(199,199,199)" stroke-width="8"/><line x1="530" y1="138.5" x2="570" y2="184.5" stroke="rgb(107,107,107)" stroke-width="12"/><line x1="600" y1="130" x2="690" y2="233.5" stroke="rgb(115,115,115)" stroke-width="8"/></g>
<g filter="url(#bl1_5)"><ellipse cx="556" cy="99" rx="7" ry="4" fill="rgb(242,242,242)" transform="rotate(49 556 99)"/><ellipse cx="603" cy="155" rx="8" ry="6" fill="rgb(242,242,242)" transform="rotate(49 603 155)"/><ellipse cx="662" cy="92" rx="15" ry="3" fill="rgb(247,247,247)" transform="rotate(45 662 92)"/><ellipse cx="675" cy="105" rx="6" ry="3" fill="rgb(247,247,247)" transform="rotate(45 675 105)"/><ellipse cx="549" cy="135" rx="5" ry="3" fill="rgb(230,230,230)" transform="rotate(49 549 135)"/><ellipse cx="610" cy="60" rx="8" ry="3" fill="rgb(217,217,217)" transform="rotate(45 610 60)"/></g>
</g></g></g>
<g clip-path="url(#ic2)"><g filter="url(#cm2)" transform="rotate(0 469.5 262.5)"><g transform="rotate(0 469.5 262.5)">
<rect x="400" y="193" width="139" height="139" fill="rgb(148,148,148)"/>
<g filter="url(#bl3)"><line x1="402" y1="225" x2="402" y2="333" stroke="rgb(115,115,115)" stroke-width="6"/><line x1="414" y1="210" x2="414" y2="333" stroke="rgb(173,173,173)" stroke-width="18"/><ellipse cx="416" cy="300" rx="10" ry="30" fill="rgb(204,204,204)"/><line x1="440" y1="205" x2="440" y2="333" stroke="rgb(110,110,110)" stroke-width="28"/><ellipse cx="441" cy="240" rx="11" ry="35" fill="rgb(99,99,99)"/><ellipse cx="442" cy="318" rx="10" ry="14" fill="rgb(128,128,128)"/><line x1="466" y1="193" x2="466" y2="333" stroke="rgb(163,163,163)" stroke-width="20"/><line x1="489" y1="193" x2="489" y2="333" stroke="rgb(150,150,150)" stroke-width="18"/><line x1="515" y1="193" x2="515" y2="333" stroke="rgb(125,125,125)" stroke-width="20"/><line x1="532" y1="193" x2="532" y2="333" stroke="rgb(133,133,133)" stroke-width="14"/><ellipse cx="485" cy="322" rx="8" ry="12" fill="rgb(133,133,133)"/><ellipse cx="425" cy="199" rx="30" ry="9" fill="rgb(117,117,117)"/><ellipse cx="494" cy="284" rx="10" ry="10" fill="rgb(168,168,168)"/><ellipse cx="517" cy="214" rx="8" ry="8" fill="rgb(140,140,140)"/></g>
<g filter="url(#bl0_7)"><ellipse cx="407.4" cy="233.8" rx="1.6" ry="1.1" fill="rgb(219,219,219)" transform="rotate(30 407.4 233.8)"/><ellipse cx="453.3" cy="235.8" rx="1.1" ry="2" fill="rgb(219,219,219)" transform="rotate(-20 453.3 235.8)"/><ellipse cx="458" cy="217" rx="1.1" ry="1.1" fill="rgb(214,214,214)"/><ellipse cx="472" cy="225.4" rx="1.5" ry="1.5" fill="rgb(224,224,224)"/><ellipse cx="532.6" cy="233.8" rx="1.3" ry="2.2" fill="rgb(217,217,217)"/><ellipse cx="407.4" cy="304.7" rx="1.8" ry="1.8" fill="rgb(230,230,230)"/><ellipse cx="426" cy="323.5" rx="1.8" ry="1.8" fill="rgb(230,230,230)"/><ellipse cx="449" cy="319" rx="1.1" ry="2.5" fill="rgb(217,217,217)" transform="rotate(10 449 319)"/><ellipse cx="436" cy="323" rx="1.1" ry="1.8" fill="rgb(209,209,209)"/><ellipse cx="503.4" cy="267.2" rx="1.8" ry="1.5" fill="rgb(224,224,224)"/><ellipse cx="481" cy="286" rx="1.5" ry="1.1" fill="rgb(217,217,217)"/></g>
</g></g></g>
<g clip-path="url(#ic3)"><g filter="url(#cm3)" transform="rotate(0 615 262.5)"><g transform="rotate(0 615 262.5)">
<rect x="545" y="193" width="140" height="139" fill="rgb(145,145,145)"/>
<g filter="url(#bl4)"><ellipse cx="622" cy="240" rx="19" ry="14" fill="rgb(97,97,97)"/><ellipse cx="634" cy="231" rx="10" ry="6" fill="rgb(107,107,107)" transform="rotate(-20 634 231)"/><ellipse cx="618" cy="203" rx="14" ry="9" fill="rgb(107,107,107)"/><ellipse cx="606" cy="203" rx="6" ry="10" fill="rgb(112,112,112)"/><ellipse cx="565" cy="222" rx="12" ry="10" fill="rgb(128,128,128)"/><ellipse cx="607" cy="222" rx="8" ry="7" fill="rgb(128,128,128)"/><ellipse cx="668" cy="258" rx="11" ry="13" fill="rgb(102,102,102)"/><ellipse cx="562" cy="298" rx="13" ry="22" fill="rgb(112,112,112)"/><ellipse cx="652" cy="232" rx="12" ry="24" fill="rgb(173,173,173)"/><ellipse cx="654" cy="262" rx="6" ry="10" fill="rgb(204,204,204)"/><ellipse cx="607" cy="300" rx="12" ry="14" fill="rgb(153,153,153)"/><ellipse cx="609" cy="262" rx="8" ry="8" fill="rgb(171,171,171)"/><ellipse cx="680" cy="292" rx="6" ry="16" fill="rgb(128,128,128)"/><ellipse cx="655" cy="292" rx="10" ry="10" fill="rgb(171,171,171)"/><ellipse cx="560" cy="263" rx="8" ry="8" fill="rgb(120,120,120)"/></g>
<g filter="url(#bl2)"><ellipse cx="619" cy="241" rx="6" ry="5" fill="rgb(26,26,26)"/></g>
<g filter="url(#bl0_7)"><ellipse cx="651.6" cy="233.8" rx="3.5" ry="1.1" fill="rgb(230,230,230)" transform="rotate(-60 651.6 233.8)"/><ellipse cx="649.5" cy="248.4" rx="3" ry="1.4" fill="rgb(219,219,219)"/><ellipse cx="649" cy="208" rx="1.4" ry="1.4" fill="rgb(209,209,209)"/><ellipse cx="595" cy="225.4" rx="1.6" ry="1.6" fill="rgb(214,214,214)"/><ellipse cx="570" cy="246" rx="1.4" ry="1.4" fill="rgb(209,209,209)"/><ellipse cx="587.7" cy="250" rx="1.4" ry="1.4" fill="rgb(204,204,204)"/><ellipse cx="601.5" cy="281.8" rx="3.5" ry="1.4" fill="rgb(230,230,230)" transform="rotate(-30 601.5 281.8)"/><ellipse cx="584.8" cy="301.4" rx="3.5" ry="1.4" fill="rgb(230,230,230)" transform="rotate(-30 584.8 301.4)"/><ellipse cx="591" cy="312.5" rx="1.4" ry="1.4" fill="rgb(217,217,217)"/><ellipse cx="632" cy="278" rx="1.4" ry="1.4" fill="rgb(214,214,214)"/><ellipse cx="651" cy="265" rx="1.4" ry="1.4" fill="rgb(214,214,214)"/></g>
</g></g></g>
<rect x="399" y="47" width="68.4" height="20.1" fill="#fff" opacity="0.7"/>
<text class="lg" x="405.3" y="62.7">untreated</text>
<rect x="545" y="47" width="47.8" height="20.5" fill="#fff" opacity="0.7"/>
<text class="lg" x="551" y="62.4">50 nm</text>
<rect x="400" y="193" width="60.6" height="19.6" fill="#fff" opacity="0.7"/>
<text class="lg" x="409.4" y="207.2">200 nm</text>
<rect x="545" y="193" width="63" height="20.5" fill="#fff" opacity="0.7"/>
<text class="lg" x="552.2" y="208.4">2000 nm</text>
<rect x="488" y="162.4" width="52" height="24.6" fill="#000"/>
<rect x="491.2" y="180.4" width="46.7" height="2.3" fill="#fff"/>
<text class="sb" x="514.4" y="175.7" text-anchor="middle">1 µm</text>
<rect x="632.9" y="162.2" width="52.1" height="24.8" fill="#000"/>
<rect x="636.3" y="180.6" width="47" height="2.1" fill="#fff"/>
<text class="sb" x="659.8" y="175.9" text-anchor="middle">1 µm</text>
<rect x="487" y="308.2" width="52" height="23.8" fill="#000"/>
<rect x="491.3" y="326.3" width="46.1" height="2.3" fill="#fff"/>
<text class="sb" x="514" y="321" text-anchor="middle">1 µm</text>
<rect x="632.9" y="308.7" width="52.1" height="23.3" fill="#000"/>
<rect x="636.3" y="327.1" width="46.7" height="2.1" fill="#fff"/>
<text class="sb" x="659.8" y="321.5" text-anchor="middle">1 µm</text>
<rect x="378.3" y="151.3" width="4.3" height="43.4" fill="url(#cbar)" stroke="#777" stroke-width="0.6"/>
<text class="lg" x="361.2" y="146.2">50 nm</text>
<text class="lg" x="381.2" y="209.8" text-anchor="middle" style="font-size:12px">0</text>
</svg></body></html>
